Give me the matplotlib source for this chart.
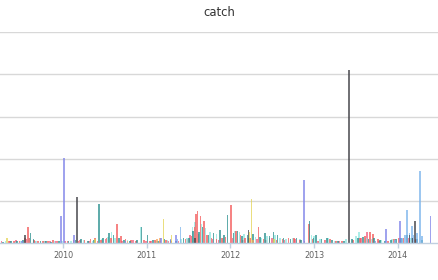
# catch per week, several series drawn as thin overlapping columns

import numpy as np
import pandas as pd
import matplotlib
matplotlib.use("Agg")
import matplotlib.pyplot as plt
import matplotlib.dates as mdates

# series data: dates and values
red_dates = ["2009-05-10", "2009-06-02", "2009-06-25", "2009-07-20", "2009-07-31", "2009-08-08",
             "2009-08-28", "2009-09-15", "2009-10-05", "2009-10-28", "2009-11-18", "2009-12-08",
             "2010-01-20", "2010-02-15", "2010-03-10", "2010-04-05", "2010-05-01", "2010-05-20",
             "2010-06-15", "2010-07-10", "2010-07-28", "2010-08-24", "2010-09-10", "2010-10-01",
             "2010-10-25", "2010-11-15", "2010-12-20",
             "2011-01-15", "2011-02-05", "2011-03-01", "2011-03-25", "2011-04-20", "2011-06-20",
             "2011-07-15", "2011-07-28", "2011-08-05", "2011-08-11", "2011-08-24", "2011-09-08",
             "2011-09-20", "2011-10-10", "2011-11-01", "2011-11-25", "2011-12-10",
             "2012-01-05", "2012-01-25", "2012-02-15", "2012-03-05", "2012-03-28", "2012-05-02",
             "2012-05-25", "2012-06-20", "2012-07-20", "2012-08-15", "2012-09-10", "2012-10-05",
             "2012-10-30", "2012-12-09", "2012-12-25",
             "2013-01-20", "2013-02-15", "2013-03-10", "2013-04-05", "2013-05-01", "2013-06-20",
             "2013-07-20", "2013-08-10", "2013-09-01", "2013-09-15", "2013-10-05", "2013-11-20",
             "2013-12-15", "2014-01-05", "2014-01-25", "2014-02-20", "2014-03-20"]
red_vals = [5, 7, 6, 12, 38, 14, 8, 6, 7, 5, 8, 6,
            7, 9, 6, 8, 10, 12, 9, 14, 12, 47, 18, 10, 8, 7, 9,
            6, 8, 7, 9, 6, 10, 18, 40, 70, 76, 64, 52, 20, 14, 10, 12, 16,
            90, 30, 20, 14, 12, 40, 10, 12, 8, 10, 12, 14, 8, 45, 10,
            6, 8, 10, 6, 7, 8, 14, 18, 28, 22, 10, 6, 10, 14, 12, 10, 8]

teal_dates = ["2009-04-15", "2009-05-20", "2009-06-15", "2009-07-10", "2009-08-12", "2009-08-25",
              "2009-09-25", "2009-10-20", "2009-11-10", "2009-12-15",
              "2010-01-25", "2010-02-25", "2010-03-20", "2010-04-20", "2010-05-15", "2010-06-06",
              "2010-06-25", "2010-07-20", "2010-08-10", "2010-09-01", "2010-09-25", "2010-10-20",
              "2010-11-20", "2010-12-10",
              "2011-01-05", "2011-01-28", "2011-02-20", "2011-03-20", "2011-04-15", "2011-05-10",
              "2011-06-10", "2011-07-05", "2011-07-22", "2011-08-18", "2011-09-01", "2011-09-28",
              "2011-10-20", "2011-11-17", "2011-12-05", "2011-12-19",
              "2012-01-15", "2012-02-01", "2012-02-20", "2012-03-15", "2012-04-10", "2012-05-10",
              "2012-06-01", "2012-06-20", "2012-07-07", "2012-07-25", "2012-08-20", "2012-09-20",
              "2012-10-15", "2012-11-05", "2012-12-12", "2012-12-28",
              "2013-01-10", "2013-02-01", "2013-02-25", "2013-03-20", "2013-04-15", "2013-05-10",
              "2013-06-15", "2013-07-10", "2013-08-01", "2013-08-25", "2013-09-20", "2013-10-15",
              "2013-11-05", "2013-12-01", "2013-12-25",
              "2014-01-15", "2014-02-10", "2014-03-01", "2014-03-25", "2014-04-15"]
teal_vals = [4, 5, 6, 8, 24, 10, 5, 6, 4, 5,
             6, 8, 10, 6, 8, 94, 12, 24, 20, 12, 8, 6, 8, 40,
             20, 8, 7, 10, 8, 6, 12, 14, 30, 28, 40, 20, 24, 33, 20, 68,
             25, 30, 18, 20, 22, 16, 24, 18, 28, 20, 14, 10, 12, 8, 54, 14,
             20, 10, 12, 8, 6, 5, 10, 12, 16, 10, 14, 8, 6, 8, 10,
             12, 20, 14, 10, 8]

cyan_dates = ["2009-04-25", "2009-06-05", "2009-07-01", "2009-08-05", "2009-09-05", "2009-10-10",
              "2009-11-25", "2009-12-28",
              "2010-02-05", "2010-04-01", "2010-05-10", "2010-06-20", "2010-07-15", "2010-08-01",
              "2010-08-15", "2010-10-10", "2010-12-05",
              "2011-02-10", "2011-04-01", "2011-06-01", "2011-06-25", "2011-07-20", "2011-08-01",
              "2011-08-28", "2011-09-15", "2011-10-05", "2011-11-01", "2011-12-01",
              "2012-01-20", "2012-02-10", "2012-03-01", "2012-03-20", "2012-04-20", "2012-05-15",
              "2012-06-10", "2012-07-15", "2012-08-05", "2012-09-01", "2012-10-01", "2012-11-01",
              "2012-12-20",
              "2013-01-01", "2013-01-25", "2013-03-01", "2013-04-01", "2013-05-20", "2013-07-01",
              "2013-07-15", "2013-08-15", "2013-09-10", "2013-10-20", "2013-12-05",
              "2014-01-20", "2014-02-25"]
cyan_vals = [5, 4, 6, 12, 6, 5, 6, 5,
             6, 8, 6, 10, 16, 26, 12, 8, 40,
             6, 8, 10, 14, 40, 50, 46, 36, 28, 22, 14,
             30, 26, 22, 14, 16, 14, 18, 20, 12, 10, 14, 10, 20,
             18, 10, 14, 6, 10, 18, 26, 14, 10, 8, 10,
             10, 14]

pink_dates = ["2009-04-08", "2009-05-15", "2009-06-10", "2009-07-25", "2009-09-01", "2009-10-15",
              "2009-11-05", "2009-12-01",
              "2010-01-10", "2010-03-15", "2010-04-25", "2010-06-01", "2010-07-05", "2010-09-15",
              "2010-11-01", "2010-12-28",
              "2011-01-20", "2011-02-28", "2011-04-05", "2011-05-20", "2011-06-28", "2011-07-10",
              "2011-08-15", "2011-10-15", "2011-11-10",
              "2012-01-10", "2012-02-25", "2012-04-25", "2012-06-05", "2012-07-01", "2012-08-25",
              "2012-10-10", "2012-11-20",
              "2013-01-15", "2013-02-20", "2013-04-20", "2013-07-25", "2013-08-20", "2013-10-10",
              "2014-01-10", "2014-02-15", "2014-03-20"]
pink_vals = [6, 5, 8, 10, 7, 6, 5, 7,
             6, 8, 6, 7, 10, 6, 8, 6,
             5, 6, 5, 6, 10, 20, 22, 10, 8,
             12, 8, 10, 8, 12, 8, 10, 6,
             6, 8, 5, 12, 28, 6,
             8, 12, 10]

purple_dates = ["2009-07-05", "2009-12-22", "2010-01-04", "2010-02-17", "2010-10-01", "2011-03-05",
                "2011-04-15", "2011-05-08", "2012-11-18", "2013-09-25", "2013-11-09",
                "2014-01-10", "2014-05-24"]
purple_vals = [5, 64, 203, 19, 6, 12, 10, 19, 151, 6, 35, 54, 64]

blue_dates = ["2011-05-15", "2011-05-29", "2013-12-20", "2014-01-20", "2014-02-01", "2014-02-09",
              "2014-02-20", "2014-03-03", "2014-03-10", "2014-03-25", "2014-04-07", "2014-04-15"]
blue_vals = [10, 40, 8, 14, 20, 80, 24, 42, 20, 24, 172, 18]

dark_dates = ["2009-07-19", "2010-03-02", "2011-08-01", "2012-03-20", "2013-06-02",
              "2014-02-20", "2014-03-05", "2014-03-16"]
dark_vals = [19, 111, 14, 33, 411, 20, 14, 54]

yellow_dates = ["2009-05-02", "2010-05-20", "2011-03-16", "2011-04-20", "2012-03-25",
                "2012-04-02", "2012-07-10", "2014-03-01"]
yellow_vals = [14, 10, 59, 19, 26, 104, 10, 8]

orange_dates = ["2010-10-10", "2011-02-15", "2011-03-01", "2012-04-10"]
orange_vals = [6, 10, 14, 8]

series = [
    (pink_dates, pink_vals, "#f15c80"),
    (cyan_dates, cyan_vals, "#91e8e1"),
    (red_dates, red_vals, "#f45b5b"),
    (teal_dates, teal_vals, "#2b908f"),
    (orange_dates, orange_vals, "#f7a35c"),
    (yellow_dates, yellow_vals, "#e4d354"),
    (blue_dates, blue_vals, "#7cb5ec"),
    (purple_dates, purple_vals, "#8085e9"),
    (dark_dates, dark_vals, "#434348"),
]

fig = plt.figure(figsize=(4.38, 2.80), dpi=100)
ax = fig.add_axes([0, 0.1304, 1, 0.7554])

for dates, vals, col in series:
    ax.bar(pd.to_datetime(dates), vals, width=7, color=col, alpha=0.75, linewidth=0, zorder=2)

ax.set_xlim(pd.Timestamp("2009-04-01"), pd.Timestamp("2014-06-25"))
ax.set_ylim(0, 500)
ax.set_yticks([100, 200, 300, 400, 500])
ax.yaxis.grid(True, color="#d8d8d8", linewidth=1, zorder=0)
ax.tick_params(axis="y", left=False, labelleft=False)

ax.xaxis.set_major_locator(mdates.YearLocator())
ax.xaxis.set_major_formatter(mdates.DateFormatter("%Y"))
ax.tick_params(axis="x", length=3.5, width=1, color="#c0d0e0", pad=2,
               labelsize=5.8, labelcolor="#606060")

for s in ["top", "left", "right"]:
    ax.spines[s].set_visible(False)
ax.spines["bottom"].set_color("#c0d0e0")
ax.spines["bottom"].set_linewidth(1)

fig.text(0.5, 1 - 12 / 280, "catch", ha="center", va="center", fontsize=8.4, color="#333333")

fig.savefig("out.png", dpi=100)
